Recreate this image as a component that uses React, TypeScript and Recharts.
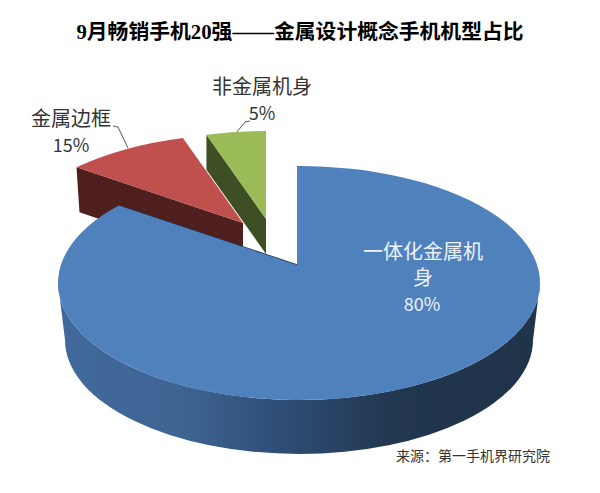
import { PieChart, Pie } from "recharts";

// Slice order runs counter-clockwise from the top so the big slice paints last.
const CATEGORIES = ["非金属机身", "金属边框", "一体化金属机身"];
// Wedge sizes as they are drawn in the picture; the printed labels say otherwise.
const DRAWN_SHARES = [5, 10, 85];
const PRINTED_LABELS = ["5%", "15%", "80%"];

const TITLE = "9月畅销手机20强——金属设计概念手机机型占比";
const SOURCE = "来源：第一手机界研究院";

const TOP_COLORS = ["#9bbb59", "#c0504d", "#4f81bd"];
const WALL_COLORS = ["#3f4f24", "#4f1f1e", "#2b4568"];

const FONT = '"Noto Sans CJK SC", "Noto Sans", sans-serif';
const WIDTH = 600;
const HEIGHT = 493;
const SQUASH = 0.46; // tilt of the pie plane

// Exploded position of each slice: apex, centre of its arc ellipse, wall depth.
const SLICE_LAYOUT = [
  { ax: 266, ay: 219, cx: 266, cy: 248, depth: 35 },
  { ax: 243, ay: 223, cx: 245, cy: 251, depth: 45 },
  { ax: 297, ay: 265, cx: 299, cy: 283, depth: 57 },
];
const RX = 241;
const RY = 117;

// Where a ray from the slice apex at this angle meets its arc ellipse.
function rim(s: (typeof SLICE_LAYOUT)[number], angle: number) {
  const rad = (angle * Math.PI) / 180;
  const dx = Math.cos(rad);
  const dy = -Math.sin(rad) * SQUASH;
  const ox = (s.ax - s.cx) / RX;
  const oy = (s.ay - s.cy) / RY;
  const ux = dx / RX;
  const uy = dy / RY;
  const a = ux * ux + uy * uy;
  const b = 2 * (ox * ux + oy * uy);
  const c = ox * ox + oy * oy - 1;
  const t = (-b + Math.sqrt(b * b - 4 * a * c)) / (2 * a);
  return { x: s.ax + t * dx, y: s.ay + t * dy };
}

function SliceShape(props: any) {
  const { startAngle, endAngle, index } = props;
  const s = SLICE_LAYOUT[index];
  const p0 = rim(s, startAngle);
  const p1 = rim(s, endAngle);
  const large = endAngle - startAngle > 180 ? 1 : 0;
  const top = `M${s.ax},${s.ay} L${p0.x},${p0.y} A${RX},${RY} 0 ${large} 0 ${p1.x},${p1.y} Z`;

  if (index === 2) {
    // The big slice shows its curved front rim, which narrows toward the base.
    const wall = `M${s.cx - RX},${s.cy} A${RX},${RY} 0 0 0 ${s.cx + RX},${s.cy} L${s.cx + 234},${s.cy + s.depth} A234,114 0 0 1 ${s.cx - 234},${s.cy + s.depth} Z`;
    return (
      <g>
        <path d={wall} fill="url(#rimShade)" />
        <path d={`M${s.ax},${s.ay} L${p0.x},${p0.y}`} stroke="#1f3550" strokeWidth={1.5} />
        <path d={top} fill={TOP_COLORS[index]} />
      </g>
    );
  }
  // The small slices only show the wall under their cut edge.
  const lean = index === 1 ? 3 : 0;
  const wall = `M${p1.x},${p1.y} L${s.ax},${s.ay} L${s.ax},${s.ay + s.depth} L${p1.x + lean},${p1.y + s.depth} Z`;
  return (
    <g>
      <path d={wall} fill={WALL_COLORS[index]} />
      <path d={top} fill={TOP_COLORS[index]} />
    </g>
  );
}

function SliceLabel(props: any) {
  const { index } = props;
  if (index === 0) {
    return (
      <g fontFamily={FONT} fill="#333">
        <polyline points="237,132 245,122 250,121" fill="none" stroke="#595959" />
        <text x={262} y={94} textAnchor="middle" fontSize={20}>{CATEGORIES[0]}</text>
        <text x={262} y={120} textAnchor="middle" fontSize={18}>{PRINTED_LABELS[0]}</text>
      </g>
    );
  }
  if (index === 1) {
    return (
      <g fontFamily={FONT} fill="#333">
        <polyline points="113,126 118,127 128,148" fill="none" stroke="#595959" />
        <text x={71} y={126} textAnchor="middle" fontSize={20}>{CATEGORIES[1]}</text>
        <text x={71} y={152} textAnchor="middle" fontSize={18}>{PRINTED_LABELS[1]}</text>
      </g>
    );
  }
  return (
    <g fontFamily={FONT} fill="#eef3fa">
      <text textAnchor="middle" fontSize={20}>
        <tspan x={423} y={259}>{CATEGORIES[2].slice(0, 6)}</tspan>
        <tspan x={423} y={285}>{CATEGORIES[2].slice(6)}</tspan>
      </text>
      <text x={422} y={311} textAnchor="middle" fontSize={18}>{PRINTED_LABELS[2]}</text>
    </g>
  );
}

const pieData = CATEGORIES.map((name, i) => ({ name, value: DRAWN_SHARES[i] }));

export default function App() {
  return (
    <div style={{ position: "absolute", left: 0, top: 0, width: WIDTH, height: HEIGHT, background: "#fff" }}>
      <PieChart width={WIDTH} height={HEIGHT} margin={{ top: 0, right: 0, bottom: 0, left: 0 }}>
        <defs>
          <linearGradient id="rimShade" x1="0" x2="1" y1="0" y2="0">
            <stop offset="0" stopColor="#41699b" />
            <stop offset="0.25" stopColor="#3f6494" />
            <stop offset="0.45" stopColor="#2f4f78" />
            <stop offset="0.7" stopColor="#21364f" />
            <stop offset="1" stopColor="#1f3349" />
          </linearGradient>
        </defs>
        <text x={300} y={39} textAnchor="middle" fontSize={20.8} fontWeight={700} fontFamily={`"Liberation Serif", ${FONT}`} fill="#000">
          {TITLE}
        </text>
        <Pie
          data={pieData}
          dataKey="value"
          nameKey="name"
          cx={299}
          cy={283}
          outerRadius={117}
          startAngle={90}
          endAngle={450}
          paddingAngle={0}
          stroke="none"
          shape={SliceShape}
          label={SliceLabel}
          labelLine={false}
          isAnimationActive={false}
        />
        <text x={396} y={461} fontSize={14} fontFamily={FONT} fill="#333">
          {SOURCE}
        </text>
      </PieChart>
    </div>
  );
}
